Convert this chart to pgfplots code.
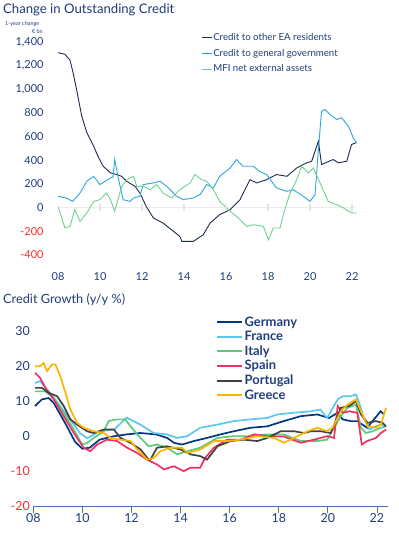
\documentclass[border=0pt]{standalone}
\usepackage{pgfplots}
\pgfplotsset{compat=1.18}
\usepackage{fontspec}
\setmainfont{Lato}
\definecolor{navytxt}{HTML}{1F3C7C}
\definecolor{negred}{HTML}{FF2B2B}
\definecolor{ceaNavy}{HTML}{1E2B4F}
\definecolor{cggBlue}{HTML}{2AA6DE}
\definecolor{mfiGreen}{HTML}{6DD191}
\definecolor{deC}{HTML}{003781}
\definecolor{frC}{HTML}{5BC6F2}
\definecolor{itC}{HTML}{5DC97E}
\definecolor{esC}{HTML}{F0305F}
\definecolor{ptC}{HTML}{414141}
\definecolor{grC}{HTML}{FDB400}
\definecolor{axC}{HTML}{4A6FB5}
\begin{document}
\begin{tikzpicture}
\path[use as bounding box] (0,0) rectangle (399bp,-533bp);
\node[anchor=west, text=navytxt, font=\fontsize{13.2}{15}\selectfont, inner sep=0] at (3bp,-9.5bp) {Change in Outstanding Credit};
\node[anchor=west, text=navytxt, font=\fontsize{5.5}{6}\selectfont, inner sep=0] at (5bp,-23.5bp) {1-year change};
\node[anchor=east, text=navytxt, font=\fontsize{5.5}{6}\selectfont, inner sep=0] at (43bp,-32bp) {€ bn};
\node[anchor=west, text=navytxt, font=\fontsize{12.8}{14}\selectfont, inner sep=0] at (3bp,-300bp) {Credit Growth (y/y \%)};

\begin{axis}[
  at={(58bp,-255bp)}, anchor=south west,
  scale only axis, width=304.5bp, height=213bp,
  xmin=2008, xmax=2022.5, ymin=-400, ymax=1400,
  axis line style={draw=none}, tick style={draw=none},
  xtick={2008,2010,2012,2014,2016,2018,2020,2022},
  xticklabels={08,10,12,14,16,18,20,22},
  ytick={-400,-200,0,200,400,600,800,1000,1200,1400},
  yticklabels={\textcolor{negred}{-400},\textcolor{negred}{-200},0,200,400,600,800,{1,000},{1,200},{1,400}},
  tick label style={font=\fontsize{11}{13}\selectfont, text=navytxt},
  yticklabel style={xshift=-11bp},
  xticklabel style={yshift=-14bp},
  legend style={at={(0.47,1.045)}, anchor=north west, draw=none, fill=none,
    font=\fontsize{9.7}{11}\selectfont, text=navytxt, row sep=5bp,
    inner sep=0pt, nodes={inner sep=1pt}},
  legend cell align=left,
  legend image code/.code={\draw[#1, line width=1pt] (0bp,0bp)--(10bp,0bp);},
]
\addplot[gray!15, line width=1pt, forget plot] coordinates {(2008,0) (2022.2,0)};
\addplot[only marks, mark=|, mark size=3.5bp, gray!22, mark options={line width=1.5pt}, forget plot] coordinates {(2010,0) (2012,0) (2014,0) (2016,0) (2018,0) (2020,0) (2022,0)};
\addplot[ceaNavy, line width=0.9pt] coordinates {
(2008.0,1310) (2008.33,1296) (2008.57,1248) (2008.7,1155) (2008.9,985) (2009.13,773) (2009.37,635) (2009.7,519) (2009.9,435) (2010.15,350) (2010.5,294) (2010.8,280) (2011.03,265) (2011.27,223) (2011.67,180) (2011.9,124) (2012.2,11) (2012.54,-87) (2013.0,-130) (2013.5,-200) (2013.8,-243) (2013.9,-285) (2014.44,-285) (2014.92,-229) (2015.24,-130) (2015.7,-59) (2016.2,-17) (2016.67,68) (2017.14,237) (2017.46,209) (2017.94,237) (2018.4,280) (2018.9,265) (2019.37,336) (2019.84,379) (2020.08,392) (2020.4,562) (2020.55,364) (2021.1,407) (2021.35,379) (2021.75,392) (2021.98,534) (2022.19,548)};
\addlegendentry{Credit to other EA residents}
\addplot[cggBlue, line width=0.9pt] coordinates {
(2008.0,96) (2008.4,82) (2008.7,53) (2009.05,124) (2009.37,223) (2009.7,265) (2010.0,195) (2010.5,251) (2010.62,260) (2010.7,407) (2010.87,251) (2011.1,68) (2011.43,53) (2011.6,82) (2011.9,96) (2012.06,195) (2012.54,209) (2012.86,223) (2013.18,180) (2013.65,96) (2013.97,68) (2014.44,82) (2014.76,110) (2015.08,195) (2015.4,167) (2015.7,265) (2016.2,336) (2016.5,407) (2016.8,350) (2017.3,350) (2017.6,307) (2017.94,280) (2018.4,167) (2018.9,138) (2019.2,152) (2019.68,96) (2020.0,53) (2020.24,110) (2020.4,491) (2020.55,816) (2020.71,830) (2020.95,788) (2021.27,745) (2021.5,760) (2021.83,689) (2022.06,590) (2022.22,548)};
\addlegendentry{Credit to general government}
\addplot[mfiGreen, line width=0.9pt] coordinates {
(2008.0,11) (2008.33,-172) (2008.57,-158) (2008.8,-17) (2009.05,-116) (2009.37,-45) (2009.7,53) (2010.0,68) (2010.3,124) (2010.5,68) (2010.7,-31) (2011.03,180) (2011.3,240) (2011.6,265) (2011.75,180) (2012.06,180) (2012.38,152) (2012.7,195) (2013.0,124) (2013.4,82) (2013.8,152) (2014.29,209) (2014.52,280) (2014.84,237) (2015.08,223) (2015.4,152) (2015.7,53) (2016.2,-31) (2016.5,-73) (2016.98,-158) (2017.3,-144) (2017.78,-158) (2018.02,-271) (2018.25,-172) (2018.57,-172) (2018.8,-17) (2019.05,124) (2019.37,237) (2019.6,350) (2019.92,294) (2020.16,336) (2020.48,209) (2020.87,53) (2021.27,25) (2021.6,-3) (2021.83,-31) (2022.06,-45) (2022.22,-45)};
\addlegendentry{MFI net external assets}
\end{axis}

\begin{axis}[
  at={(33.3bp,-506.5bp)}, anchor=south west,
  scale only axis, width=354.7bp, height=175bp,
  xmin=2008, xmax=2022.45, ymin=-20, ymax=30,
  axis x line*=bottom, axis y line*=left,
  x axis line style={draw=axC, line width=0.8pt, -},
  y axis line style={draw=none},
  ytick style={draw=none},
  xtick style={draw=axC, line width=0.8pt},
  xtick align=outside, major tick length=6bp,
  xtick={2008,2010,2012,2014,2016,2018,2020,2022},
  xticklabels={08,10,12,14,16,18,20,22},
  ytick={-20,-10,0,10,20,30},
  yticklabels={\textcolor{negred}{-20},\textcolor{negred}{-10},0,10,20,30},
  tick label style={font=\fontsize{12.5}{14}\selectfont, text=navytxt},
  xticklabel style={yshift=2.5bp},
  legend style={at={(0.515,1.095)}, anchor=north west, draw=none, fill=none,
    font=\bfseries\fontsize{13}{14}\selectfont, text=navytxt, row sep=0.6bp,
    inner sep=0pt, nodes={inner sep=1.5pt}},
  legend cell align=left,
  legend image code/.code={\draw[#1, line width=2pt] (0bp,0bp)--(25bp,0bp);},
]
\addplot[deC, line width=1.7pt] coordinates {
(2008.07,8.7) (2008.35,10.6) (2008.62,11) (2008.83,9.6) (2009.1,6.3) (2009.37,2.9) (2009.7,-1.5) (2010.0,-3.5) (2010.3,-3.2) (2010.7,-0.9) (2011.3,0.1) (2011.8,0.6) (2012.36,1) (2013.0,0.6) (2013.45,-0.4) (2013.73,-1.8) (2014.06,-2.3) (2014.54,-1.3) (2015.08,-0.4) (2015.62,0.6) (2016.17,1.5) (2016.85,2.5) (2017.53,2.9) (2018.2,4.4) (2018.89,5.8) (2019.57,6.3) (2020.05,5.3) (2020.4,6.8) (2020.6,4.9) (2020.93,4.4) (2021.2,4.4) (2021.41,3.4) (2021.6,2.5) (2021.88,4.9) (2022.15,7.2) (2022.29,6.3)};
\addlegendentry{Germany}
\addplot[frC, line width=1.7pt] coordinates {
(2008.07,15.3) (2008.27,15.8) (2008.68,12.5) (2009.1,8.7) (2009.5,4.9) (2009.9,1) (2010.2,-0.5) (2010.7,1.5) (2011.3,2) (2011.8,5.4) (2012.36,3.4) (2012.9,1) (2013.45,0.6) (2013.86,-0.4) (2014.27,0.1) (2014.8,2.5) (2015.5,3.4) (2016.17,4.4) (2016.85,4.9) (2017.53,5.3) (2017.94,6.3) (2018.62,6.8) (2019.3,7.2) (2019.7,7.7) (2019.97,5.3) (2020.4,10.6) (2020.6,11.5) (2020.93,11.5) (2021.14,12) (2021.28,9.6) (2021.48,4.9) (2021.69,2) (2021.96,2.9) (2022.16,3.4) (2022.37,2.9)};
\addlegendentry{France}
\addplot[itC, line width=1.7pt] coordinates {
(2008.07,12.9) (2008.48,12.9) (2008.83,11) (2009.24,6.8) (2009.65,2) (2009.99,-2.3) (2010.2,-1.8) (2010.46,-0.4) (2010.87,1.5) (2011.07,4.4) (2011.41,4.9) (2011.75,4.9) (2011.96,2.9) (2012.3,0.1) (2012.7,-2.8) (2013.04,-2.3) (2013.45,-3.2) (2013.86,-5.1) (2014.27,-4.2) (2014.8,-3.2) (2015.5,-0.4) (2016.17,0.1) (2016.85,0.1) (2017.5,0.6) (2018.2,0.6) (2018.9,-1.3) (2019.57,-1.3) (2019.97,-0.9) (2020.25,2.5) (2020.53,5.8) (2020.8,8.2) (2021.14,9.1) (2021.35,2.5) (2021.55,1) (2021.82,1.5) (2022.16,2.5) (2022.37,2.9)};
\addlegendentry{Italy}
\addplot[esC, line width=1.7pt] coordinates {
(2008.07,18.2) (2008.27,16.8) (2008.54,13.4) (2008.83,10.6) (2009.24,5.8) (2009.65,1) (2010.05,-3.2) (2010.32,-4.2) (2010.6,-2.3) (2011.0,-0.9) (2011.41,-1.3) (2011.82,-3.2) (2012.23,-4.7) (2012.63,-6.6) (2013.04,-8) (2013.32,-9.4) (2013.73,-8.5) (2014.13,-9.9) (2014.4,-8.9) (2014.8,-8.9) (2015.0,-6.1) (2015.36,-3.2) (2015.9,-0.9) (2016.45,-0.9) (2016.99,0.6) (2017.53,0.1) (2018.2,0) (2018.9,-1.8) (2019.44,-0.9) (2019.97,0.1) (2020.25,-0.4) (2020.4,8.7) (2020.6,6.8) (2020.87,7.2) (2021.2,6.8) (2021.38,-2.3) (2021.6,-1.3) (2021.96,-0.4) (2022.16,1) (2022.37,2)};
\addlegendentry{Spain}
\addplot[ptC, line width=1.7pt] coordinates {
(2008.07,13.9) (2008.35,13.9) (2008.62,12.5) (2008.97,11.5) (2009.24,8.7) (2009.51,4.9) (2009.78,3.4) (2010.19,1.5) (2010.46,1) (2010.87,2) (2011.28,2) (2011.55,-0.4) (2011.96,-1.8) (2012.37,-3.7) (2012.7,-6.6) (2012.77,-6.6) (2013.04,-3.2) (2013.45,-2.8) (2014.0,-3.7) (2014.4,-5.1) (2014.8,-5.6) (2015.08,-6.6) (2015.5,-2.8) (2016.04,-1.3) (2016.58,-0.9) (2017.13,-1.3) (2017.53,-0.4) (2018.08,1.5) (2018.62,1.5) (2019.03,1) (2019.3,1.5) (2019.7,1.5) (2020.12,1) (2020.53,8.2) (2020.87,8.7) (2021.14,10.1) (2021.35,6.3) (2021.62,3.9) (2021.96,4.4) (2022.23,3.9) (2022.37,2.9)};
\addlegendentry{Portugal}
\addplot[grC, line width=1.7pt] coordinates {
(2008.07,20.1) (2008.27,20.1) (2008.42,21) (2008.56,18.7) (2008.76,20.6) (2008.9,20.6) (2009.1,17.2) (2009.31,12.5) (2009.51,7.7) (2009.78,3.9) (2010.05,2.5) (2010.46,1.5) (2010.87,1) (2011.14,-0.4) (2011.55,-0.9) (2011.96,-1.3) (2012.23,-3.7) (2012.5,-5.6) (2012.64,-6.6) (2012.91,-6.1) (2013.18,-4.2) (2013.59,-3.2) (2014.06,-3.2) (2014.27,-4.7) (2014.8,-3.7) (2015.36,-1.3) (2015.9,-1.3) (2016.45,-0.9) (2017.13,0.1) (2017.81,-0.4) (2018.22,-1.8) (2018.62,-0.4) (2019.17,1.5) (2019.57,2.5) (2019.97,1.5) (2020.19,2.5) (2020.53,7.2) (2020.8,9.1) (2021.14,10.6) (2021.35,7.2) (2021.62,2.9) (2021.96,2.5) (2022.16,3.4) (2022.37,8.2)};
\addlegendentry{Greece}
\end{axis}
\end{tikzpicture}
\end{document}
